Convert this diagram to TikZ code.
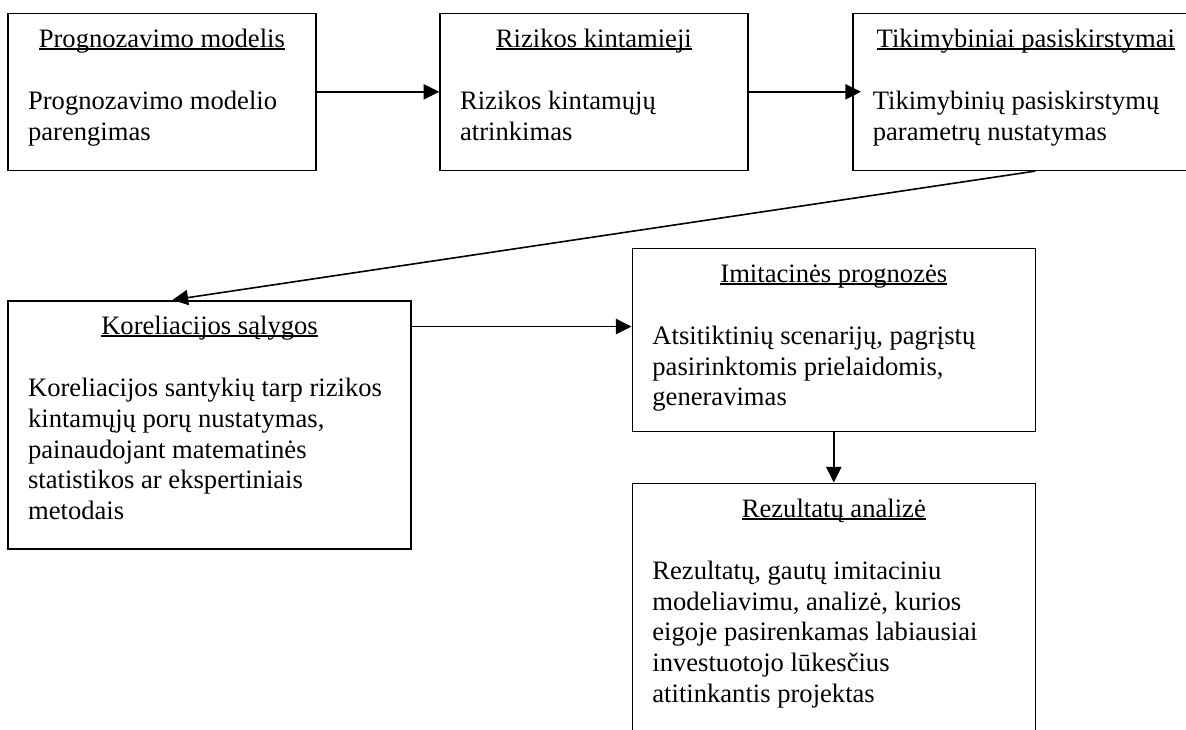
\documentclass[tikz,border=0pt]{standalone}
\usepackage{fontspec}
\setmainfont{Liberation Serif}
\usepackage{tikz}
\usetikzlibrary{arrows.meta, calc, fit, positioning}

% underline through the descenders
\newcommand\titleul[1]{\setbox0\hbox{#1}\rlap{\rule[-1.25pt]{\wd0}{0.75pt}}\box0}

\tikzset{
    stagebox/.style={draw, line width=0.8pt, inner sep=0pt},
    stagetitle/.style={anchor=base, inner sep=0pt},
    stagetext/.style={anchor=north west, align=left, inner sep=0pt},
    flow/.style={line width=0.8pt, -{Triangle[length=7.8pt, width=7.6pt]}}
}

\begin{document}
\begin{tikzpicture}[x=0.5pt, y=-0.5pt, font=\fontsize{13.3}{15.35}\selectfont]
            \useasboundingbox (0,0) rectangle (1186,729);
            \clip (0,0) rectangle (1186,729);

            % Boxes
            \node[stagebox, fit={(8,13.3) (315.7,170.3)}] (prog) {};
            \node[stagebox, fit={(440,13.3) (747.7,170.3)}] (rizik) {};
            \node[stagebox, fit={(852.7,13.3) (1199,170.3)}] (tikim) {};
            \node[stagebox, fit={(8,300.7) (411,549)}] (kor) {};
            \node[stagebox, fit={(632.3,248.3) (1035.3,431.3)}] (imit) {};
            \node[stagebox, fit={(632.3,483.3) (1035.3,760)}] (rez) {};

            % Titles
            \node[stagetitle] (prog-t) at ($(prog.north)+(0,34.5)$) {\titleul{Prognozavimo modelis}};
            \node[stagetitle] (rizik-t) at ($(rizik.north)+(0,34.5)$) {\titleul{Rizikos kintamieji}};
            \node[stagetitle] (tikim-t) at ($(tikim.north)+(0,34.5)$) {\titleul{Tikimybiniai pasiskirstymai}};
            \node[stagetitle] (kor-t) at ($(kor.north)+(0,34.5)$) {\titleul{Koreliacijos sąlygos}};
            \node[stagetitle] (imit-t) at ($(imit.north)+(0,34.5)$) {\titleul{Imitacinės prognozės}};
            \node[stagetitle] (rez-t) at ($(rez.north)+(0,34.5)$) {\titleul{Rezultatų analizė}};

            % Texts
            \node[stagetext] (prog-b) at ($(prog.north west)+(20.5,78)$) {Prognozavimo modelio\\parengimas};
            \node[stagetext] (rizik-b) at ($(rizik.north west)+(20.5,78)$) {Rizikos kintamųjų\\atrinkimas};
            \node[stagetext] (tikim-b) at ($(tikim.north west)+(20.5,78)$) {Tikimybinių pasiskirstymų\\parametrų nustatymas};
            \node[stagetext] (kor-b) at ($(kor.north west)+(20.5,78)$) {Koreliacijos santykių tarp rizikos\\kintamųjų porų nustatymas,\\painaudojant matematinės\\statistikos ar ekspertiniais\\metodais};
            \node[stagetext] (imit-b) at ($(imit.north west)+(20.5,78)$) {Atsitiktinių scenarijų, pagrįstų\\pasirinktomis prielaidomis,\\generavimas};
            \node[stagetext] (rez-b) at ($(rez.north west)+(20.5,78)$) {Rezultatų, gautų imitaciniu\\modeliavimu, analizė, kurios\\eigoje pasirenkamas labiausiai\\investuotojo lūkesčius\\atitinkantis projektas};

            % Connections
            \draw[flow] (prog.east) -- (rizik.west);
            \draw[flow] (rizik.east) -- ($(tikim.west)+(9,0)$);
            \draw[flow] ($(tikim.south west)+(183.3,0)$) -- ($(kor.north west)+(165.3,0)$);
            \draw[flow] ($(kor.north east)+(0,26.6)$) coordinate (kor-out) -- (kor-out -| imit.west);
            \draw[flow] (imit.south) -- (rez.north);

        \end{tikzpicture}
\end{document}
